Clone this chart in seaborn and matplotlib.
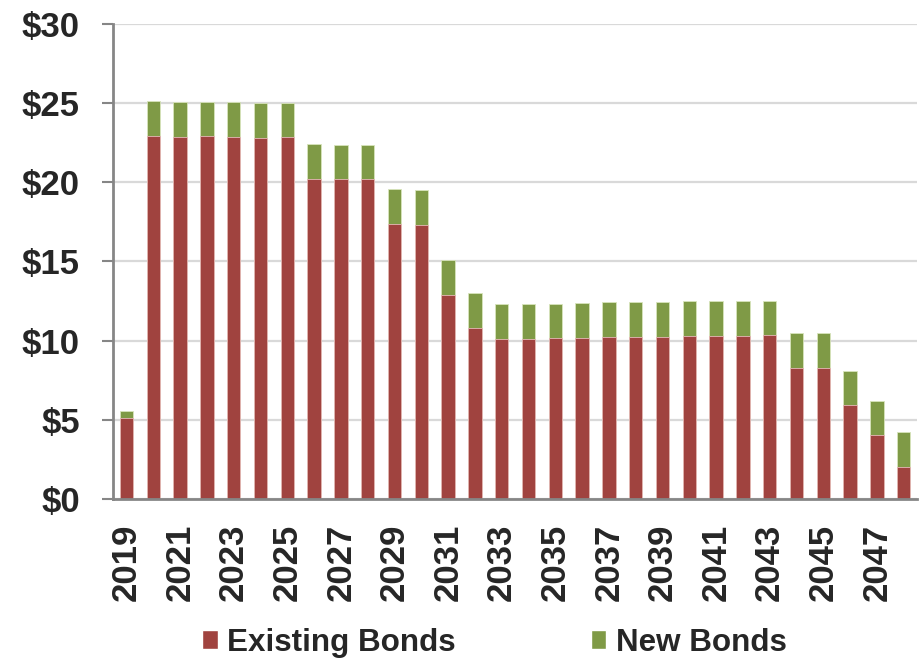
import matplotlib
matplotlib.use("Agg")
import matplotlib.pyplot as plt
from matplotlib.patches import Patch
from matplotlib.ticker import FixedLocator
import seaborn as sns
import numpy as np

years = [str(y) for y in range(2019, 2049)]
existing = [5.14, 22.92, 22.88, 22.90, 22.86, 22.80, 22.84, 20.23, 20.18, 20.20,
            17.34, 17.30, 12.87, 10.79, 10.09, 10.13, 10.15, 10.17, 10.22, 10.24,
            10.24, 10.28, 10.28, 10.28, 10.34, 8.28, 8.26, 5.92, 4.02, 2.04]
new = [0.44, 2.19, 2.21, 2.19, 2.19, 2.21, 2.19, 2.21, 2.20, 2.18,
       2.21, 2.19, 2.24, 2.21, 2.19, 2.17, 2.17, 2.20, 2.19, 2.21,
       2.21, 2.19, 2.21, 2.21, 2.19, 2.19, 2.19, 2.19, 2.19, 2.19]
y_ticks = [0, 5, 10, 15, 20, 25, 30]
y_labels = ["$" + str(v) for v in y_ticks]

red = "#A0433F"
green = "#7F9A46"

sns.set_style("white")
plt.rcParams["font.family"] = ["Liberation Sans", "DejaVu Sans"]
plt.rcParams["font.weight"] = "bold"

fig = plt.figure(figsize=(9.22, 6.6), dpi=100)
ax = fig.add_axes([0.1226, 0.244, 0.872, 0.7198])

total = np.array(existing) + np.array(new)
# stacked look: totals in green, existing drawn over them in red
sns.barplot(x=years, y=total, color=green, saturation=1, width=0.5,
            edgecolor="#D8E4BC", linewidth=0.6, ax=ax, zorder=3)
sns.barplot(x=years, y=existing, color=red, saturation=1, width=0.5,
            edgecolor="#E6B9B8", linewidth=0.6, ax=ax, zorder=4)

ax.set_xlim(-0.5, len(years) - 0.5)
ax.set_ylim(0, 30)
ax.set_yticks(y_ticks)
ax.set_yticklabels(y_labels, fontsize=25, fontweight="bold")
ax.yaxis.grid(True, color="#D9D9D9", linewidth=1.6, zorder=0)
ax.set_axisbelow(True)

ax.set_xticks(range(0, len(years), 2))
ax.set_xticklabels(years[::2], rotation=90, fontsize=25, fontweight="bold")
ax.xaxis.set_minor_locator(FixedLocator(np.arange(-0.5, len(years), 1)))
ax.tick_params(axis="x", which="major", length=0, pad=18)
ax.tick_params(axis="x", which="minor", length=7.5, width=1.5, color="#868686", direction="out")
ax.tick_params(axis="y", length=8, width=1.5, color="#868686", direction="out", pad=16, left=True)
ax.set_xlabel("")
ax.set_ylabel("")

for side in ["top", "right"]:
    ax.spines[side].set_visible(False)
for side in ["left", "bottom"]:
    ax.spines[side].set_color("#868686")
    ax.spines[side].set_linewidth(2)
    ax.spines[side].set_zorder(5)

handles = [Patch(facecolor=red, label="Existing Bonds"),
           Patch(facecolor=green, label="New Bonds")]
fig.legend(handles=handles, loc="center", bbox_to_anchor=(0.536, 0.026), ncol=2,
           frameon=False, prop={"size": 22.6, "weight": "bold"},
           handlelength=0.5, handleheight=0.55, handletextpad=0.3, columnspacing=4.3)

fig.savefig("out.png", dpi=100)
